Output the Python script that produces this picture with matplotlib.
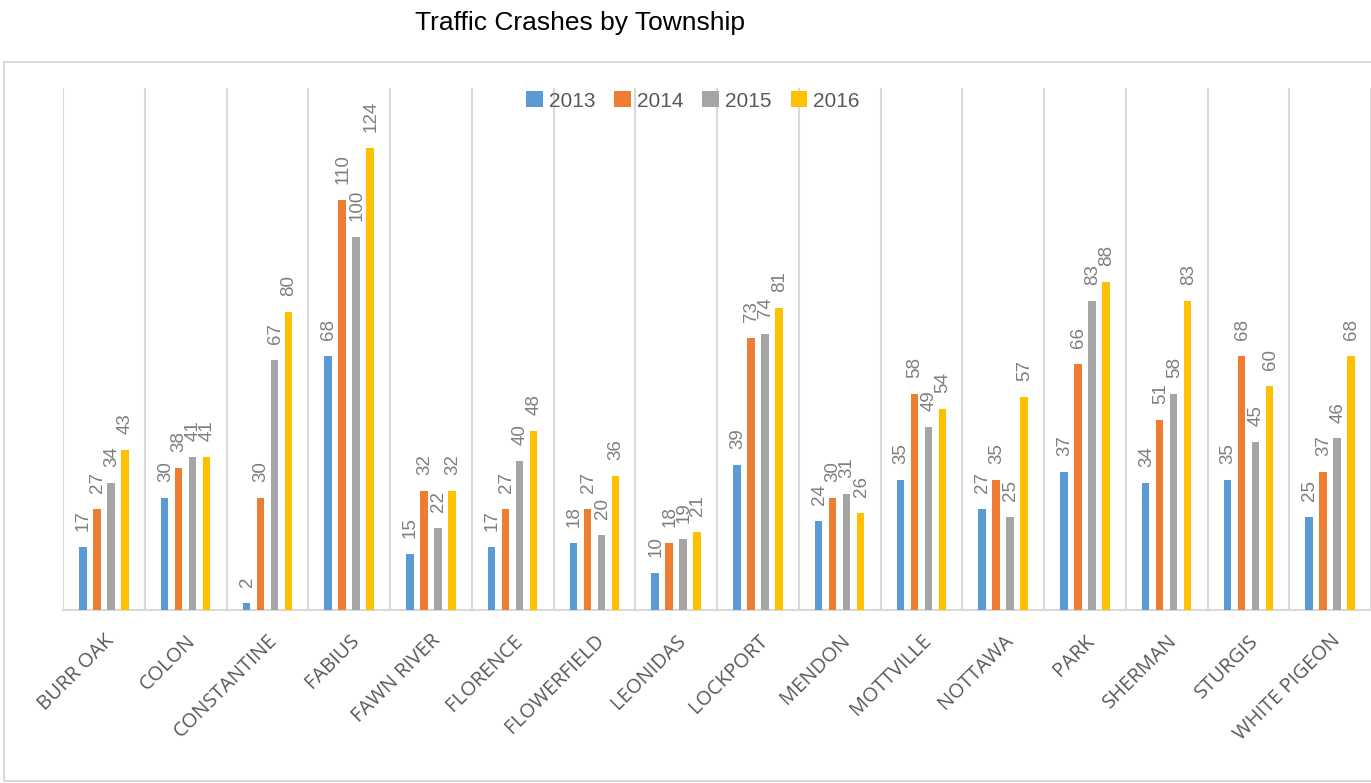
import matplotlib
matplotlib.use("Agg")
import matplotlib.pyplot as plt
from matplotlib.patches import Rectangle
import numpy as np

plt.rcParams['font.family'] = ['Liberation Sans', 'DejaVu Sans']

townships = ["BURR OAK", "COLON", "CONSTANTINE", "FABIUS", "FAWN RIVER", "FLORENCE",
             "FLOWERFIELD", "LEONIDAS", "LOCKPORT", "MENDON", "MOTTVILLE", "NOTTAWA",
             "PARK", "SHERMAN", "STURGIS", "WHITE PIGEON"]
years = ["2013", "2014", "2015", "2016"]
y2013 = [17, 30, 2, 68, 15, 17, 18, 10, 39, 24, 35, 27, 37, 34, 35, 25]
y2014 = [27, 38, 30, 110, 32, 27, 27, 18, 73, 30, 58, 35, 66, 51, 68, 37]
y2015 = [34, 41, 67, 100, 22, 40, 20, 19, 74, 31, 49, 25, 83, 58, 45, 46]
y2016 = [43, 41, 80, 124, 32, 48, 36, 21, 81, 26, 54, 57, 88, 83, 60, 68]
colors = ["#5B9BD5", "#ED7D31", "#A5A5A5", "#FFC000"]

series = [y2013, y2014, y2015, y2016]

W, H = 1371, 783
fig = plt.figure(figsize=(W / 100, H / 100), dpi=100)

# chart frame
fig.patches.append(Rectangle((4 / W, 1 - 781 / H), (W + 10) / W, (781 - 62) / H,
                             transform=fig.transFigure, fill=False,
                             edgecolor="#d9d9d9", linewidth=1.5, clip_on=False))

ax = fig.add_axes([63 / W, 1 - 610 / H, (W - 63) / W, (610 - 88) / H])
x = np.arange(len(townships))
pitch = 0.171
width = 0.092
offsets = [-1.5 * pitch, -0.5 * pitch, 0.5 * pitch, 1.5 * pitch]
for vals, col, off, yr in zip(series, colors, offsets, years):
    bars = ax.bar(x + off, vals, width=width, color=col, label=yr, zorder=3)
    for b, v in zip(bars, vals):
        ax.annotate(str(v), (b.get_x() + b.get_width() / 2, b.get_height()),
                    xytext=(0.5, 11.5), textcoords="offset points", rotation=90,
                    ha="center", va="bottom", fontsize=13.5, color="#7f7f7f")

ax.set_xlim(-0.5, len(townships) - 0.5)
ax.set_ylim(0, 140)
for b in np.arange(-0.5, len(townships), 1.0):
    ax.axvline(b, color="#d9d9d9", linewidth=1.5, zorder=1)
for s in ["top", "right", "left"]:
    ax.spines[s].set_visible(False)
ax.spines["bottom"].set_color("#d9d9d9")
ax.spines["bottom"].set_linewidth(1.5)
ax.set_yticks([])
ax.set_xticks(x)
ax.set_xticklabels(townships, rotation=45, ha="right", rotation_mode="anchor",
                   fontsize=14.5, color="#595959", family=["Open Sans", "DejaVu Sans"])
ax.tick_params(axis="x", length=0, pad=15)

fig.legend(loc="center", bbox_to_anchor=(693 / W, 1 - 101 / H), ncol=4, frameon=False,
           fontsize=15, labelcolor="#595959", handlelength=0.8, handleheight=0.8,
           handletextpad=0.3, columnspacing=0.9)

fig.text(580 / W, 1 - 23 / H, "Traffic Crashes by Township", ha="center", va="center",
         fontsize=19, color="#000000")

fig.savefig("out.png", dpi=100)
